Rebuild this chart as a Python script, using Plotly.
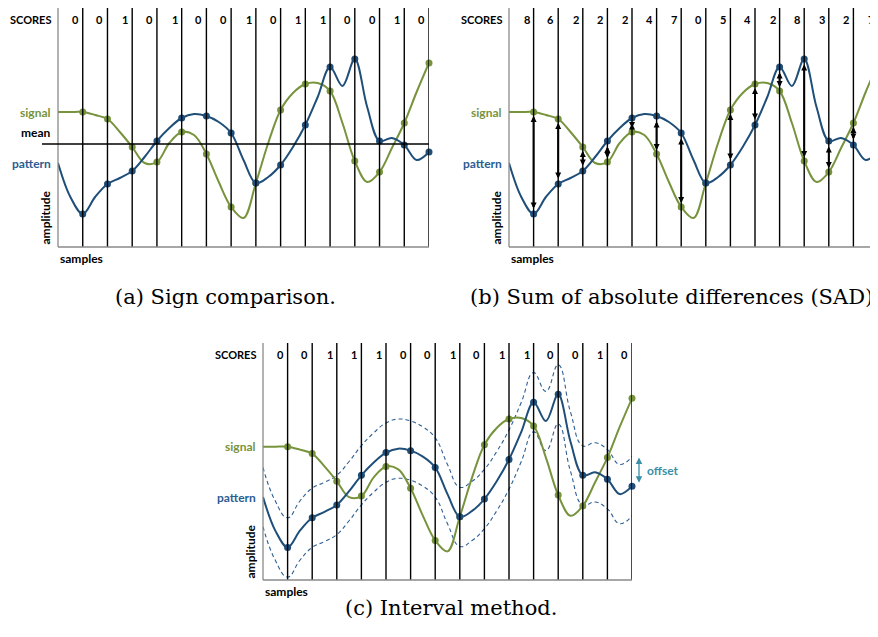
import plotly.graph_objects as go

# ---------------- data ----------------
SAMPLES = list(range(1, 16))
SIGNAL = [13.5, 12.8, 10.0, 8.5, 11.5, 9.3, 4.0, 6.4, 13.7, 16.3, 15.6, 8.6, 7.5, 12.4, 18.4]
PATTERN = [3.3, 6.3, 7.6, 10.6, 12.9, 13.1, 11.4, 6.4, 8.2, 12.2, 18.0, 18.8, 10.6, 10.2, 9.5]
# underlying continuous waveforms, read at half-sample steps
WAVE_X = [i / 2 for i in range(31)]
SIGNAL_WAVE = [13.5, 13.5, 13.5, 13.2, 12.8, 11.5, 10.0, 8.4, 8.5, 10.4, 11.5, 11.2, 9.3, 6.5, 4.0, 2.9,
               6.4, 10.4, 13.7, 15.4, 16.3, 16.4, 15.6, 12.4, 8.6, 6.5, 7.5, 9.9, 12.4, 15.5, 18.4]
PATTERN_WAVE = [8.4, 5.0, 3.3, 5.0, 6.3, 6.9, 7.6, 9.0, 10.6, 11.9, 12.9, 13.3, 13.1, 12.5, 11.4, 8.7,
                6.4, 7.0, 8.2, 10.0, 12.2, 15.0, 18.0, 16.1, 18.8, 14.0, 10.6, 10.9, 10.2, 8.7, 9.5]
MEAN = 10.3
OFFSET = 3.0
SCORES_A = [0, 0, 1, 0, 1, 0, 0, 1, 0, 1, 1, 0, 0, 1, 0]
SCORES_B = [8, 6, 2, 2, 2, 4, 7, 0, 5, 4, 2, 8, 3, 2, 7]
SCORES_C = [0, 0, 1, 1, 1, 0, 0, 1, 0, 1, 1, 0, 0, 1, 0]
CAPTIONS = ["(a) Sign comparison.", "(b) Sum of absolute differences (SAD)", "(c) Interval method."]

# ---------------- style ----------------
PAGE_OFF = 8          # default body margin of the html page
W, H = 878 - PAGE_OFF, 637 - PAGE_OFF
GREEN = "#77933C"
BLUE = "#1F4E79"
BLUE_TXT = "#2B5D92"
TEAL = "#3A8FA6"
LBL_FONT = "Lato"
CAP_FONT = "DejaVu Serif"
SMOOTH = 1.0


def px_x(p):
    return min(max((p - PAGE_OFF) / W, 0), 1)


def px_y(p):
    return min(max(1 - (p - PAGE_OFF) / H, 0), 1)


PANELS = {
    "a": dict(xa="x", ya="y", xd=(58, 429), yd=(8, 247), xr=[0, 15], yr=[0, 23.9], scores=SCORES_A),
    "b": dict(xa="x2", ya="y2", xd=(509, 878), yd=(8, 247), xr=[0, 15], yr=[0, 23.9], scores=SCORES_B),
    "c": dict(xa="x3", ya="y3", xd=(263, 632), yd=(343, 580), xr=[0, 15], yr=[0, 24], scores=SCORES_C),
}
SCORE_Y = 22.8

fig = go.Figure()
shapes = []
annotations = []

for key, p in PANELS.items():
    xa, ya = p["xa"], p["ya"]
    for s in SAMPLES:
        shapes.append(dict(type="line", xref=xa, yref=f"{ya} domain", x0=s, x1=s, y0=0, y1=1,
                           line=dict(color="black", width=1.4)))
    shapes.append(dict(type="line", xref=f"{xa} domain", yref=f"{ya} domain", x0=0, x1=0, y0=0, y1=1,
                       line=dict(color="#8a8a8a", width=1.3)))
    shapes.append(dict(type="line", xref=f"{xa} domain", yref=f"{ya} domain", x0=0, x1=1, y0=0, y1=0,
                       line=dict(color="#8a8a8a", width=1.3)))

    if key == "c":
        for sign in (1, -1):
            fig.add_trace(go.Scatter(x=WAVE_X, y=[v + sign * OFFSET for v in PATTERN_WAVE],
                                     mode="lines", line=dict(color="#2E5F95", width=1.1, dash="4px,3px",
                                                            shape="spline", smoothing=1.3),
                                     xaxis=xa, yaxis=ya, hoverinfo="skip", showlegend=False))

    fig.add_trace(go.Scatter(x=WAVE_X, y=SIGNAL_WAVE, mode="lines",
                             line=dict(color=GREEN, width=2, shape="spline", smoothing=SMOOTH),
                             xaxis=xa, yaxis=ya, hoverinfo="skip", showlegend=False))
    fig.add_trace(go.Scatter(x=WAVE_X, y=PATTERN_WAVE, mode="lines",
                             line=dict(color=BLUE, width=2, shape="spline", smoothing=SMOOTH),
                             xaxis=xa, yaxis=ya, hoverinfo="skip", showlegend=False))
    fig.add_trace(go.Scatter(x=SAMPLES, y=SIGNAL, mode="markers", marker=dict(color=GREEN, size=7),
                             xaxis=xa, yaxis=ya, hoverinfo="skip", showlegend=False, cliponaxis=False))
    fig.add_trace(go.Scatter(x=SAMPLES, y=PATTERN, mode="markers", marker=dict(color=BLUE, size=7),
                             xaxis=xa, yaxis=ya, hoverinfo="skip", showlegend=False, cliponaxis=False))

    for s, sc in zip(SAMPLES, p["scores"]):
        annotations.append(dict(x=s, xref=xa, y=SCORE_Y, yref=ya, text=f"<b>{sc}</b>",
                                showarrow=False, xanchor="right", xshift=-2,
                                font=dict(family=LBL_FONT, size=11, color="black")))
    annotations.append(dict(x=0, xref=f"{xa} domain", y=SCORE_Y, yref=ya, text="<b>SCORES</b>",
                            showarrow=False, xanchor="right", xshift=-5,
                            font=dict(family=LBL_FONT, size=11, color="black")))
    annotations.append(dict(x=0, xref=f"{xa} domain", y=SIGNAL_WAVE[0], yref=ya, text="<b>signal</b>",
                            showarrow=False, xanchor="right", xshift=-5,
                            font=dict(family=LBL_FONT, size=12, color=GREEN)))
    annotations.append(dict(x=0, xref=f"{xa} domain", y=PATTERN_WAVE[0], yref=ya, text="<b>pattern</b>",
                            showarrow=False, xanchor="right", xshift=-5,
                            font=dict(family=LBL_FONT, size=12, color=BLUE_TXT)))
    annotations.append(dict(x=0, xref=f"{xa} domain", y=0, yref=f"{ya} domain", text="<b>amplitude</b>",
                            showarrow=False, xanchor="right", yanchor="bottom", xshift=-4, textangle=-90,
                            font=dict(family=LBL_FONT, size=12, color="black")))
    annotations.append(dict(x=0, xref=f"{xa} domain", y=0, yref=f"{ya} domain", text="<b>samples</b>",
                            showarrow=False, xanchor="left", yanchor="top", yshift=-2,
                            font=dict(family=LBL_FONT, size=12, color="black")))

    if key == "a":
        shapes.append(dict(type="line", xref="paper", yref=ya, x0=px_x(42), x1=px_x(429), y0=MEAN, y1=MEAN,
                           line=dict(color="black", width=1.4)))
        annotations.append(dict(x=0, xref=f"{xa} domain", y=MEAN, yref=ya, text="<b>mean</b>",
                                showarrow=False, xanchor="right", yanchor="bottom", xshift=-5, yshift=2,
                                font=dict(family=LBL_FONT, size=12, color="black")))
    if key == "b":
        for s, sv, pv in zip(SAMPLES, SIGNAL, PATTERN):
            if abs(sv - pv) < 0.5:
                continue
            annotations.append(dict(x=s, y=sv, ax=s, ay=pv, xref=xa, yref=ya, axref=xa, ayref=ya,
                                    text="", showarrow=True, arrowside="end+start",
                                    arrowhead=2, startarrowhead=2, arrowsize=0.6, startarrowsize=0.6,
                                    arrowwidth=2, arrowcolor="black", standoff=4, startstandoff=4))
    if key == "c":
        annotations.append(dict(x=px_x(639), xref="paper", y=12.4, yref=ya, ax=0, ay=12.4 - 2.7,
                                axref="pixel", ayref=ya, text="", showarrow=True, arrowside="end+start",
                                arrowhead=2, startarrowhead=2, arrowsize=1, startarrowsize=1,
                                arrowwidth=1.3, arrowcolor=TEAL))
        annotations.append(dict(x=px_x(645), xref="paper", y=11.05, yref=ya, text="<b>offset</b>",
                                showarrow=False, xanchor="left",
                                font=dict(family=LBL_FONT, size=12, color=TEAL)))

annotations.append(dict(x=px_x(226), y=px_y(297), xref="paper", yref="paper", text=CAPTIONS[0],
                        showarrow=False, xanchor="center",
                        font=dict(family=CAP_FONT, size=21, color="black")))
annotations.append(dict(x=px_x(468), y=px_y(297), xref="paper", yref="paper", text=CAPTIONS[1],
                        showarrow=False, xanchor="left",
                        font=dict(family=CAP_FONT, size=21, color="black")))
annotations.append(dict(x=px_x(451), y=px_y(622), xref="paper", yref="paper", text=CAPTIONS[2],
                        showarrow=False, xanchor="center",
                        font=dict(family=CAP_FONT, size=21, color="black")))

layout = dict(width=W, height=H, margin=dict(l=0, r=0, t=0, b=0),
              paper_bgcolor="white", plot_bgcolor="white", showlegend=False,
              shapes=shapes, annotations=annotations)
for key, p in PANELS.items():
    xname = "xaxis" + p["xa"][1:]
    yname = "yaxis" + p["ya"][1:]
    layout[xname] = dict(domain=[px_x(p["xd"][0]), px_x(p["xd"][1])], range=p["xr"], visible=False,
                         anchor=p["ya"], fixedrange=True)
    layout[yname] = dict(domain=[px_y(p["yd"][1]), px_y(p["yd"][0])], range=p["yr"], visible=False,
                         anchor=p["xa"], fixedrange=True)

fig.update_layout(**layout)
fig.write_html("out.html")
